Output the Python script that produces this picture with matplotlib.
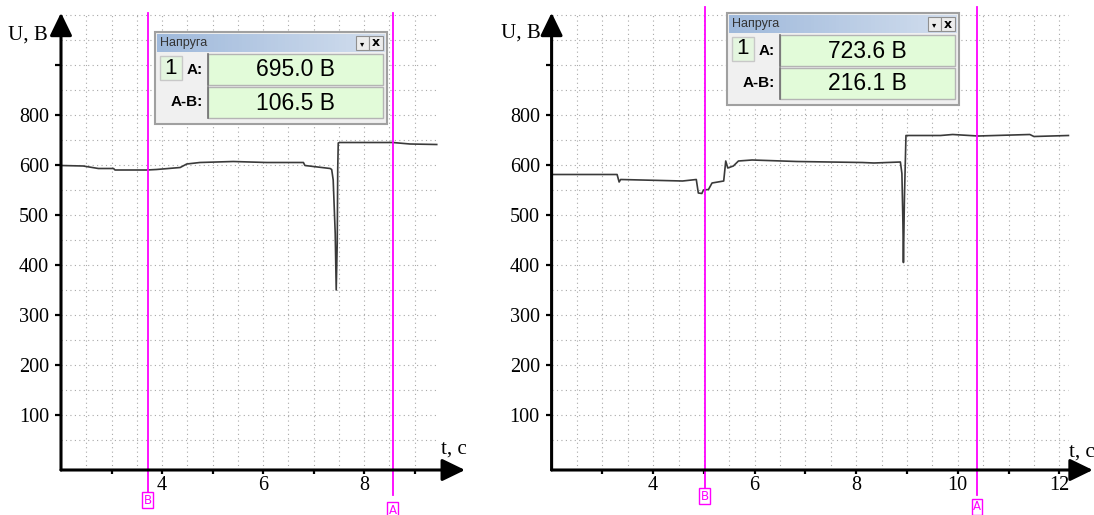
import numpy as np
import matplotlib
matplotlib.use("Agg")
import matplotlib.pyplot as plt
from matplotlib.patches import Rectangle

# left panel: voltage trace
t_left = [2.0, 2.44, 2.74, 3.04, 3.07, 3.70, 3.89, 4.36, 4.49, 4.75, 5.41, 6.07,
          6.80, 6.83, 7.33, 7.36, 7.39, 7.43, 7.45, 7.47, 7.48, 7.49, 7.52, 8.05,
          8.57, 8.91, 9.44]
u_left = [599, 598, 593, 593, 590, 590, 591, 595, 602, 605, 607, 605,
          605, 599, 593, 591, 570, 463, 350, 444, 594, 644, 645, 645,
          645, 642, 641]

# right panel
t_right = [2.0, 3.29, 3.33, 3.36, 4.58, 4.85, 4.89, 4.96, 4.99, 5.09, 5.16, 5.39,
           5.43, 5.47, 5.58, 5.68, 5.95, 6.83, 8.12, 8.35, 8.87, 8.90, 8.92, 8.93,
           8.95, 8.98, 9.66, 9.90, 10.40, 11.42, 11.50, 12.18]
u_right = [581, 581, 566, 571, 568, 571, 544, 543, 550, 551, 564, 568,
           608, 594, 598, 608, 610, 607, 605, 604, 606, 583, 483, 405,
           536, 659, 659, 661, 658, 661, 657, 659]

# cursors (B, A) and readouts
cursors_left = [3.72, 8.57]
cursors_right = [5.02, 10.38]
readout_left = ["695.0 В", "106.5 В"]
readout_right = ["723.6 В", "216.1 В"]

y_ticks = [100, 200, 300, 400, 500, 600, 700, 800]
y_ticklabels = ["100", "200", "300", "400", "500", "600", "800", ""]

W, H = 1094, 515
fig = plt.figure(figsize=(W / 100, H / 100), dpi=100)
serif = "Liberation Serif"
sans = "Liberation Sans"
MAG = "#ff00ff"
ARROW = "-|>,head_length=0.7,head_width=0.34"


def panel(ax, t, u, xmax, tmax_data, xt, curs, cur_top, lab_y):
    ax.set_xlim(2, xmax)
    ax.set_ylim(-10, 900)
    for s in ax.spines.values():
        s.set_visible(False)
    ax.patch.set_alpha(0)
    # dotted grid
    hv = np.arange(50, 901, 50)
    ax.hlines(hv, 2, tmax_data, colors="#a8a8a8", linestyles=(0, (1, 3)), lw=0.8, clip_on=False, zorder=1)
    vv = np.arange(2.5, xt[-1] + 0.01, 0.5)
    ax.vlines(vv, -10, 900, colors="#a8a8a8", linestyles=(0, (1, 3)), lw=0.8, clip_on=False, zorder=1)
    # trace
    ax.plot(t, u, color="#3a3a3a", lw=1.2, zorder=3)
    # axes arrows
    ax.annotate("", xy=(1, 0), xytext=(0, 0), xycoords="axes fraction",
                arrowprops=dict(arrowstyle=ARROW, mutation_scale=20,
                                lw=2.2, color="black", shrinkA=0, shrinkB=0), zorder=5)
    ax.annotate("", xy=(0, 1.005), xytext=(0, 0), xycoords="axes fraction",
                arrowprops=dict(arrowstyle=ARROW, mutation_scale=20,
                                lw=2.2, color="black", shrinkA=0, shrinkB=0), zorder=5)
    ax.set_yticks(y_ticks)
    ax.set_yticklabels(y_ticklabels, fontfamily=serif, fontsize=14.5)
    ax.set_xticks(xt)
    ax.set_xticklabels([str(v) if v % 2 == 0 else "" for v in xt], fontfamily=serif, fontsize=14.5)
    ax.tick_params(axis="y", direction="out", length=4.5, width=1.6, pad=4)
    ax.tick_params(axis="x", direction="in", length=0, pad=4)
    # small downward x ticks
    ax.vlines(xt, -10, -18, colors="black", lw=1.6, clip_on=False)
    # cursors
    for c, name, ly in zip(curs, ["B", "A"], lab_y):
        ax.plot([c, c], [-60, cur_top], color=MAG, lw=1.3, clip_on=False, zorder=4)
        ax.text(c, ly, name, color=MAG, fontsize=8.5, fontfamily="DejaVu Sans", ha="center", va="center",
                bbox=dict(boxstyle="square,pad=0.12", fc="white", ec=MAG, lw=1), clip_on=False, zorder=6)


ax1 = fig.add_axes([61 / W, 45 / H, 404 / W, 455 / H])
panel(ax1, t_left, u_left, 10.0, 9.45, list(range(3, 10)), cursors_left, 904, [-70, -90])
ax2 = fig.add_axes([551.6 / W, 45 / H, 541.2 / W, 455 / H])
panel(ax2, t_right, u_right, 12.66, 12.18, list(range(3, 13)), cursors_right, 916, [-62, -84])

# overlay in pixel coordinates for labels and readout windows
ov = fig.add_axes([0, 0, 1, 1], zorder=10)
ov.set_xlim(0, W)
ov.set_ylim(H, 0)
ov.axis("off")
ov.patch.set_alpha(0)

ov.text(8, 35, "U, В", fontfamily=serif, fontsize=15, va="center", ha="left")
ov.text(501, 33, "U, В", fontfamily=serif, fontsize=15, va="center", ha="left")
ov.text(441, 449, "t, с", fontfamily=serif, fontsize=15, va="center", ha="left")
ov.text(1069, 452, "t, с", fontfamily=serif, fontsize=15, va="center", ha="left")

grad = np.linspace(0, 1, 64).reshape(1, -1)
cmap = matplotlib.colors.LinearSegmentedColormap.from_list("tb", ["#9fb9db", "#d2deee"])


def readout(x0, y0, vals):
    ov.add_patch(Rectangle((x0, y0), 232, 92, fc="#f0f0f0", ec="#a0a0a0", lw=1.5))
    ov.imshow(grad, cmap=cmap, extent=(x0 + 2, x0 + 230, y0 + 20, y0 + 2), aspect="auto", zorder=2)
    ov.text(x0 + 5, y0 + 11, "Напруга", fontfamily=sans, fontsize=9, color="#333333", va="center", zorder=3)
    ov.add_patch(Rectangle((x0 + 201, y0 + 4), 13, 14, fc="#ececec", ec="#909090", lw=0.8, zorder=3))
    ov.text(x0 + 207.5, y0 + 12, "▾", fontfamily="DejaVu Sans", fontsize=6, va="center", ha="center", zorder=4)
    ov.add_patch(Rectangle((x0 + 214, y0 + 4), 14, 14, fc="#ececec", ec="#909090", lw=0.8, zorder=3))
    ov.text(x0 + 221, y0 + 11, "x", fontfamily="DejaVu Sans", fontsize=9, fontweight="bold", va="center",
            ha="center", zorder=4)
    ov.add_patch(Rectangle((x0 + 5, y0 + 24), 22, 24, fc="#e4f6df", ec="#c8c8c8", lw=1, zorder=3))
    ov.text(x0 + 16, y0 + 36, "1", fontfamily=sans, fontsize=16, va="center", ha="center", zorder=4)
    ov.text(x0 + 48, y0 + 38, "A:", fontfamily=sans, fontsize=11, fontweight="bold", va="center",
            ha="right", zorder=4)
    ov.text(x0 + 48, y0 + 70, "A-B:", fontfamily=sans, fontsize=11, fontweight="bold", va="center",
            ha="right", zorder=4)
    for i, v in enumerate(vals):
        ry = y0 + 22 + i * 33
        ov.add_patch(Rectangle((x0 + 53, ry), 175, 31, fc="#e2fbd9", ec="#b4b4b4", lw=1, zorder=3))
        ov.plot([x0 + 53, x0 + 53], [ry, ry + 31], color="#707070", lw=1.2, zorder=4)
        ov.text(x0 + 140, ry + 16, v, fontfamily=sans, fontsize=16.5, va="center", ha="center", zorder=4)


readout(155, 32, readout_left)
readout(727, 13, readout_right)

fig.savefig("out.png", dpi=100)
